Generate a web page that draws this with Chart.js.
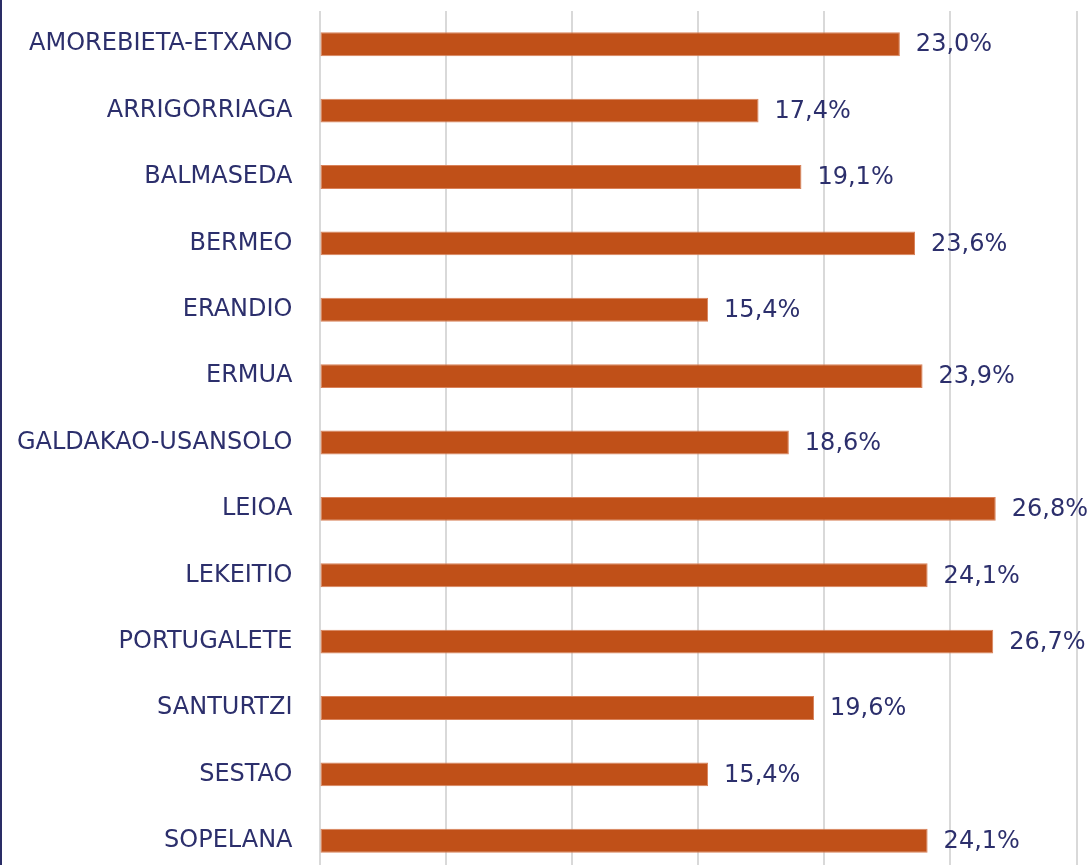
<!DOCTYPE html>
<html>
<head>
<meta charset="utf-8">
<script src="https://cdn.jsdelivr.net/npm/chart.js@4"></script>
<style>
  html, body { margin: 0; padding: 0; background: #fff; overflow: hidden; }
  #wrap { position: relative; width: 1091px; height: 880px; }
  #edge { position: absolute; left: 0; top: 0; width: 2px; height: 880px; background: #2a2d66; z-index: 2; }
  canvas { display: block; }
</style>
</head>
<body>
<div id="wrap">
  <div id="edge"></div>
  <canvas id="chart"></canvas>
</div>
<script>
// municipios y porcentajes
const municipios = ["AMOREBIETA-ETXANO", "ARRIGORRIAGA", "BALMASEDA", "BERMEO", "ERANDIO", "ERMUA",
  "GALDAKAO-USANSOLO", "LEIOA", "LEKEITIO", "PORTUGALETE", "SANTURTZI", "SESTAO", "SOPELANA"];
const porcentajes = [23.0, 17.4, 19.1, 23.6, 15.4, 23.9, 18.6, 26.8, 24.1, 26.7, 19.6, 15.4, 24.1];
const xTicks = [0, 5, 10, 15, 20, 25, 30];

const navy = "#2c2f6c";

// etiquetas al final de cada barra
const barLabels = {
  id: "barLabels",
  afterDatasetsDraw(chart) {
    const ctx = chart.ctx;
    const meta = chart.getDatasetMeta(0);
    ctx.save();
    ctx.font = "24px DejaVu Sans";
    ctx.fillStyle = navy;
    ctx.textAlign = "left";
    ctx.textBaseline = "middle";
    meta.data.forEach((bar, i) => {
      let txt = porcentajes[i].toFixed(1).replace(".", ",") + "%";
      ctx.fillText(txt, bar.x + 16, bar.y + 1);
    });
    ctx.restore();
  }
};

new Chart(document.getElementById("chart"), {
  type: "bar",
  data: {
    labels: municipios,
    datasets: [{
      data: porcentajes,
      backgroundColor: "#c05018",
      borderColor: "#d9825a",
      borderWidth: 1,
      borderSkipped: false,
      barPercentage: 0.72,
      categoryPercentage: 0.5
    }]
  },
  options: {
    indexAxis: "y",
    responsive: true,
    maintainAspectRatio: false,
    animation: false,
    layout: { padding: { top: 11, right: 14.5, bottom: 6, left: 0 } },
    plugins: {
      legend: { display: false },
      tooltip: { enabled: false }
    },
    scales: {
      x: {
        min: 0,
        max: 30,
        afterBuildTicks: axis => { axis.ticks = xTicks.map(v => ({ value: v })); },
        afterFit: scale => { scale.height = 0; scale.paddingLeft = 0; scale.paddingRight = 0; },
        ticks: { display: false },
        grid: { color: "#d9d9d9", lineWidth: 2, drawTicks: false },
        border: { display: false }
      },
      y: {
        afterFit: scale => { scale.width = 319.5; scale.paddingTop = 0; scale.paddingBottom = 0; },
        ticks: {
          color: navy,
          font: { family: "DejaVu Sans", size: 24 },
          padding: 27
        },
        grid: { display: false, drawTicks: false },
        border: { display: false }
      }
    }
  },
  plugins: [barLabels]
});
</script>
</body>
</html>
